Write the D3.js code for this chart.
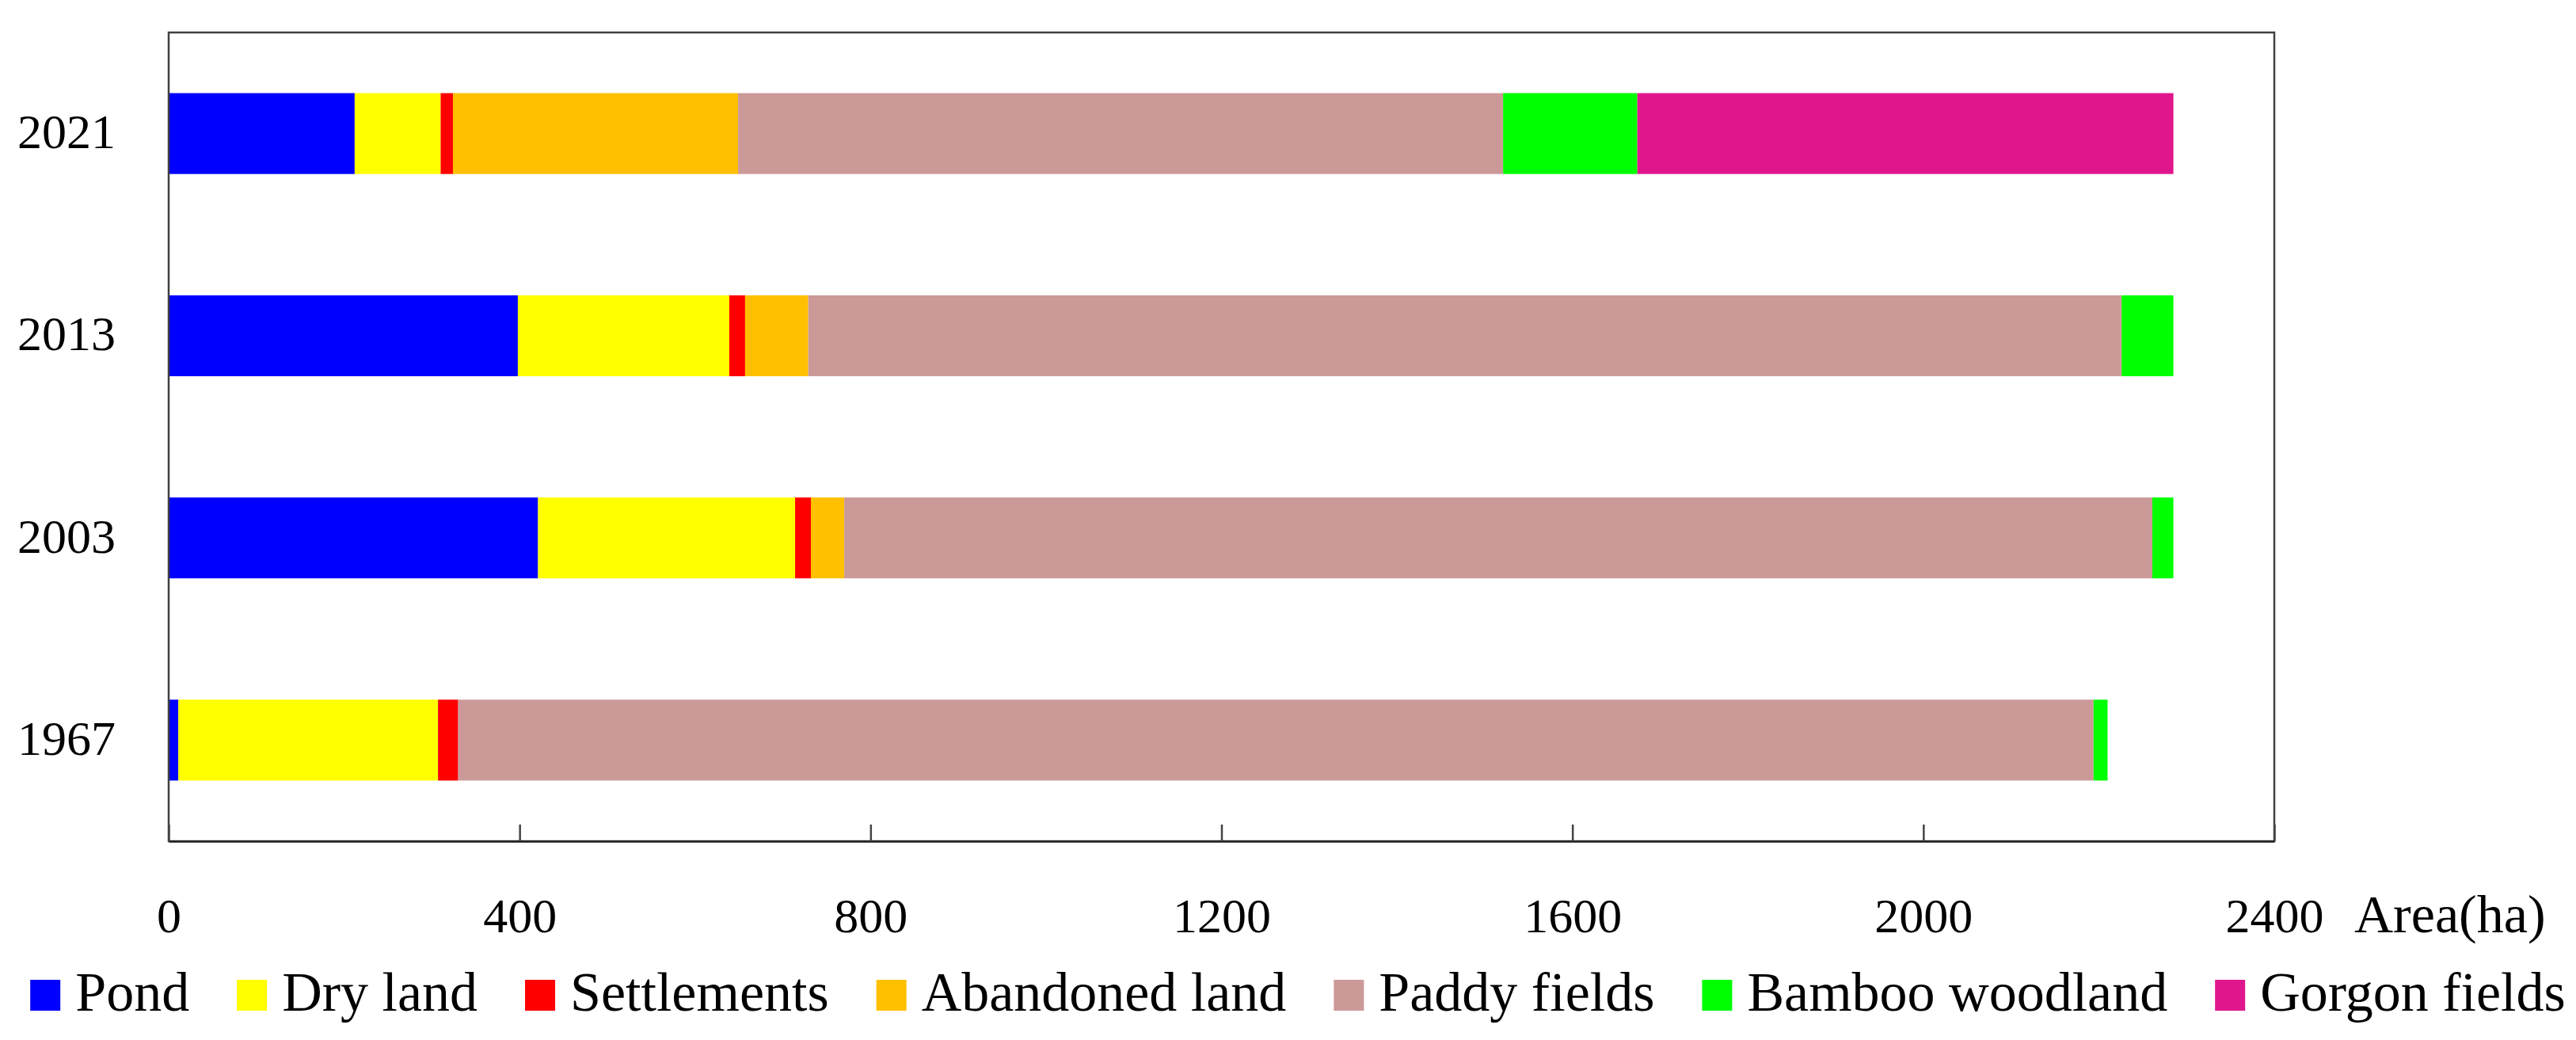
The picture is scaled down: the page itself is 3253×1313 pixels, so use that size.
<!DOCTYPE html>
<html><head><meta charset="utf-8">
<script src="https://cdn.jsdelivr.net/npm/d3@7"></script>
<style>body{margin:0;background:#fff} svg{display:block}</style>
</head><body>
<svg id="chart" width="3253" height="1313"></svg>
<script>
const years = ["2021", "2013", "2003", "1967"];
const landTypes = ["Pond", "Dry land", "Settlements", "Abandoned land", "Paddy fields", "Bamboo woodland", "Gorgon fields"];
const pond = [212, 398, 421, 11];
const dryLand = [98, 241, 293, 296];
const settlements = [14, 18, 18, 23];
const abandonedLand = [325, 72, 38, 0];
const paddyFields = [872, 1497, 1491, 1864];
const bambooWoodland = [153, 59, 24, 16];
const gorgonFields = [611, 0, 0, 0];
const xTicks = [0, 400, 800, 1200, 1600, 2000, 2400];
const colors = ["#0000FF", "#FFFF00", "#FF0000", "#FFC000", "#CC9999", "#00FF00", "#E0168C"];
const xTitle = "Area(ha)";

const seriesArrays = [pond, dryLand, settlements, abandonedLand, paddyFields, bambooWoodland, gorgonFields];
const rows = years.map((yr, i) => {
  const r = {year: yr};
  landTypes.forEach((k, j) => r[k] = seriesArrays[j][i]);
  return r;
});

const FONT = "'Liberation Serif', 'Times New Roman', serif";
const svg = d3.select("#chart");
const L = 213, R = 2872, T = 41, B = 1062;

const x = d3.scaleLinear().domain([0, 2400]).range([L, R]);
const y = d3.scaleBand().domain(years).range([T, B]).paddingInner(0.6).paddingOuter(0.3);
const color = d3.scaleOrdinal().domain(landTypes).range(colors);

const stacked = d3.stack().keys(landTypes)(rows);

svg.append("g").selectAll("g").data(stacked).join("g")
  .attr("fill", d => color(d.key))
  .selectAll("rect").data(d => d).join("rect")
  .attr("x", d => x(d[0]))
  .attr("width", d => Math.max(0, x(d[1]) - x(d[0])))
  .attr("y", d => y(d.data.year))
  .attr("height", y.bandwidth());

// frame
svg.append("rect").attr("x", L).attr("y", T).attr("width", R - L).attr("height", B - T)
  .attr("fill", "none").attr("stroke", "#404040").attr("stroke-width", 2.5);

// x axis
const xAxis = svg.append("g").attr("transform", `translate(0,${B})`)
  .call(d3.axisBottom(x).tickValues(xTicks).tickSizeInner(-21).tickSizeOuter(0).tickFormat(d3.format("d")));
xAxis.select(".domain").attr("stroke", "#222").attr("stroke-width", 2.5);
xAxis.selectAll(".tick line").attr("stroke", "#444").attr("stroke-width", 2.5);
xAxis.selectAll(".tick text").attr("y", 115).attr("dy", 0)
  .attr("font-family", FONT).attr("font-size", 62).attr("fill", "#000");

svg.append("text").attr("x", R + 101).attr("y", B + 115)
  .attr("font-family", FONT).attr("font-size", 68).attr("fill", "#000").text(xTitle);

// y axis labels
const yAxis = svg.append("g").attr("transform", `translate(${L},0)`)
  .call(d3.axisLeft(y).tickSize(0).tickPadding(67));
yAxis.select(".domain").remove();
yAxis.selectAll(".tick text").attr("dy", "0.3em")
  .attr("font-family", FONT).attr("font-size", 62).attr("fill", "#000");

// legend
const legend = svg.append("g");
const items = legend.selectAll("g").data(landTypes).join("g");
items.append("rect").attr("width", 38).attr("height", 39).attr("y", -39).attr("fill", d => color(d));
items.append("text").attr("x", 57).attr("y", 0)
  .attr("font-family", FONT).attr("font-size", 70).attr("fill", "#000").text(d => d);
let cx = 0;
const offsets = [];
items.each(function() {
  const w = d3.select(this).select("text").node().getComputedTextLength();
  offsets.push(cx);
  cx += 57 + w + 60;
});
const total = cx - 60;
const start = 1639 - total / 2;
items.attr("transform", (d, i) => `translate(${start + offsets[i]},1276)`);
</script>
</body></html>
